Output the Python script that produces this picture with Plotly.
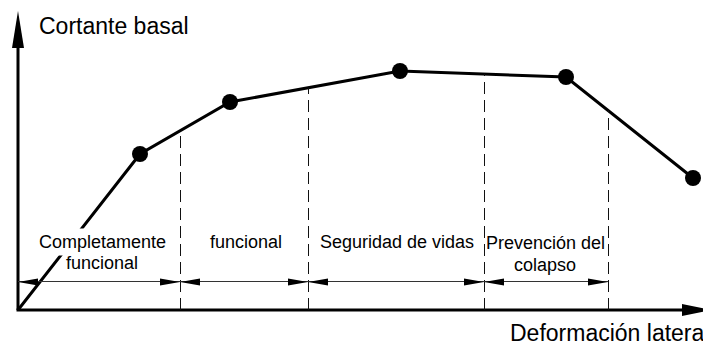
import plotly.graph_objects as go
import numpy as np

# capacity curve (pixel-like units, origin at the axes corner)
deformation = [0, 122, 212, 382, 548, 675]
shear = [0, 156, 208, 239, 233, 132]

# performance level limits along the deformation axis
limits = [162, 290, 466, 590]
level_labels = ["Completamente", "funcional", "Seguridad de vidas", "Prevención del"]
level_labels2 = ["funcional", "", "", "colapso"]
dim_y = 28          # height of the dimension line
label_y = [68, 68, 68, 67]
label2_y = [47, 47, 47, 45]

y_title = "Cortante basal"
x_title = "Deformación lateral"

fig = go.Figure()

shapes = []
# axes
shapes.append(dict(type="line", x0=0, y0=0, x1=0, y1=270, line=dict(color="black", width=3)))
shapes.append(dict(type="line", x0=-1.5, y0=0, x1=668, y1=0, line=dict(color="black", width=3)))
shapes.append(dict(type="path", path="M -6 262 L 0 299 L 6 262 Z", fillcolor="black", line=dict(width=0)))
shapes.append(dict(type="path", path="M 664 6 L 693 0 L 664 -6 Z", fillcolor="black", line=dict(width=0)))

# dashed level limits, from the axis up to the curve
tops = np.interp(limits, deformation, shear)
for xv, top in zip(limits, tops):
    shapes.append(dict(type="line", x0=xv + 0.5, y0=0, x1=xv + 0.5, y1=top,
                       line=dict(color="#111", width=1, dash="12px,6px")))

# dimension line with arrowheads
bounds = [0] + limits
shapes.append(dict(type="line", x0=bounds[0], y0=dim_y + 0.5, x1=bounds[-1], y1=dim_y + 0.5,
                   line=dict(color="#333", width=1)))
L, H = 20, 3.5
for a, b in zip(bounds[:-1], bounds[1:]):
    shapes.append(dict(type="path",
                       path=f"M {a} {dim_y} L {a+L} {dim_y+H} L {a+L} {dim_y-H} Z",
                       fillcolor="black", line=dict(width=0)))
    shapes.append(dict(type="path",
                       path=f"M {b} {dim_y} L {b-L} {dim_y+H} L {b-L} {dim_y-H} Z",
                       fillcolor="black", line=dict(width=0)))

fig.add_trace(go.Scatter(
    x=deformation, y=shear, mode="lines",
    line=dict(color="black", width=3), cliponaxis=False, hoverinfo="skip",
))
fig.add_trace(go.Scatter(
    x=deformation[1:], y=shear[1:], mode="markers",
    marker=dict(color="black", size=16), cliponaxis=False, hoverinfo="skip",
))

font = dict(family="Liberation Sans, Arial, sans-serif", color="black")
annotations = []
centers = [84, 227.5, 379, 527]
for i, (cx, t1, t2) in enumerate(zip(centers, level_labels, level_labels2)):
    annotations.append(dict(x=cx, y=label_y[i], text=t1, showarrow=False,
                            font=dict(size=18, **font),
                            bgcolor="white" if i == 0 else "rgba(0,0,0,0)",
                            borderpad=3))
    if t2:
        annotations.append(dict(x=cx, y=label2_y[i], text=t2, showarrow=False,
                                font=dict(size=18, **font)))
annotations.append(dict(x=19, y=284, text=y_title, showarrow=False, xanchor="left",
                        font=dict(size=23, **font)))
annotations.append(dict(x=490, y=-23, text=x_title, showarrow=False, xanchor="left",
                        font=dict(size=23, **font)))

# the page body has an 8px margin, so the figure is 8px smaller and shifted
fig.update_layout(
    width=703, height=338,
    margin=dict(l=0, r=0, t=0, b=0),
    paper_bgcolor="white", plot_bgcolor="white",
    showlegend=False,
    shapes=shapes, annotations=annotations,
    xaxis=dict(range=[-10, 693], visible=False, fixedrange=True),
    yaxis=dict(range=[-36, 302], visible=False, fixedrange=True),
)

fig.write_html("out.html")
